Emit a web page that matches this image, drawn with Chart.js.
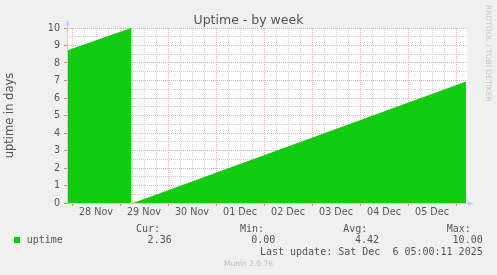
<!DOCTYPE html>
<html><head><meta charset="utf-8">
<script src="https://cdn.jsdelivr.net/npm/chart.js@4.4.1/dist/chart.umd.min.js"></script>
<style>
html,body{margin:0;padding:0;background:#f0f0f0;}
#wrap{position:relative;width:497px;height:275px;overflow:hidden;background:#f0f0f0;}
canvas{position:absolute;left:0;top:0;}
.m{position:absolute;white-space:pre;font-family:"DejaVu Sans Mono",monospace;font-size:10px;line-height:12px;color:#555;}
.r{text-align:right;}
#title{position:absolute;left:0;width:497px;top:11.5px;text-align:center;font-family:"DejaVu Sans",sans-serif;font-size:12.5px;line-height:15px;color:#555;}
#rrd{position:absolute;left:483.5px;top:5px;writing-mode:vertical-rl;font-family:"DejaVu Sans",sans-serif;font-size:7.5px;line-height:9px;color:#c8c8c8;white-space:pre;}
#munin{position:absolute;left:0;width:497px;top:259px;text-align:center;font-family:"DejaVu Sans",sans-serif;font-size:7.5px;line-height:9px;color:#bbb;}
#sw{position:absolute;left:14px;top:237px;width:6px;height:6px;background:#00cc00;}
</style></head><body>
<div id="wrap">
<canvas id="c" width="497" height="275"></canvas>
<div id="title">Uptime - by week</div>
<div id="rrd">RRDTOOL / TOBI OETIKER</div>
<div class="m" style="left:136px;top:222.8px">Cur:</div>
<div class="m" style="left:240px;top:222.8px">Min:</div>
<div class="m" style="left:343.3px;top:222.8px">Avg:</div>
<div class="m" style="left:446.7px;top:222.8px">Max:</div>
<div id="sw"></div>
<div class="m" style="left:26.7px;top:234.3px">uptime</div>
<div class="m r" style="right:325.3px;top:234.3px">2.36</div>
<div class="m r" style="right:221.7px;top:234.3px">0.00</div>
<div class="m r" style="right:118px;top:234.3px">4.42</div>
<div class="m r" style="right:14.3px;top:234.3px">10.00</div>
<div class="m r" style="right:14.3px;top:245.5px">Last update: Sat Dec  6 05:00:11 2025</div>
<div id="munin">Munin 2.0.76</div>
</div>
<script>
// hours relative to 28 Nov 00:00
const hours  = [-2.5, 29.5, 30, 30.5, 197];
const uptime = [8.72, 10.0, null, 0.0, 6.95];
const dayLabels = ['28 Nov','29 Nov','30 Nov','01 Dec','02 Dec','03 Dec','04 Dec','05 Dec'];
const xMin = -2.5, xMax = 197.5;
const yMin = 0, yMax = 10;

const MAJOR = 'rgba(225,90,90,0.5)';
const MINOR = 'rgba(150,150,150,0.45)';
const AXIS = '#c4cdf6';

const tickHours = [];
for (let d = 0; d <= dayLabels.length; d++) for (let q = 0; q < 4; q++) { const v = d*24+q*6; if (v <= xMax) tickHours.push(v); }

const bgPlugin = {
  id: 'bg',
  beforeDraw(chart) {
    const {ctx, chartArea: a} = chart;
    ctx.save(); ctx.fillStyle = '#ffffff';
    ctx.fillRect(a.left, a.top, a.right - a.left, a.bottom - a.top);
    ctx.restore();
  },
  afterDraw(chart) {
    const {ctx, chartArea: a} = chart;
    ctx.save();
    ctx.strokeStyle = AXIS; ctx.fillStyle = AXIS; ctx.lineWidth = 1;
    const lx = Math.round(a.left) + 0.5, by = Math.round(a.bottom) + 0.5;
    ctx.beginPath(); ctx.moveTo(lx, by); ctx.lineTo(lx, a.top - 3); ctx.stroke();
    ctx.beginPath(); ctx.moveTo(lx, a.top - 8); ctx.lineTo(lx - 2.5, a.top - 2.5); ctx.lineTo(lx + 2.5, a.top - 2.5); ctx.closePath(); ctx.fill();
    ctx.beginPath(); ctx.moveTo(lx, by); ctx.lineTo(a.right + 2, by); ctx.stroke();
    ctx.beginPath(); ctx.moveTo(a.right + 6.5, by); ctx.lineTo(a.right + 1, by - 2.5); ctx.lineTo(a.right + 1, by + 2.5); ctx.closePath(); ctx.fill();
    ctx.restore();
  }
};

new Chart(document.getElementById('c'), {
  type: 'line',
  data: {
    datasets: [{
      label: 'uptime',
      data: hours.map((h, i) => ({x: h, y: uptime[i]})),
      fill: 'origin',
      backgroundColor: 'rgba(0,200,0,0.93)',
      borderColor: 'rgba(0,0,0,0)',
      borderWidth: 0,
      pointRadius: 0,
      tension: 0,
      spanGaps: false
    }]
  },
  options: {
    responsive: false,
    devicePixelRatio: 1,
    animation: false,
    layout: {padding: {top: 28, right: 30, bottom: 52, left: 0}},
    plugins: {legend: {display: false}, tooltip: {enabled: false}, title: {display: false}},
    scales: {
      x: {
        type: 'linear', min: xMin, max: xMax,
        afterBuildTicks: s => { s.ticks = tickHours.map(v => ({value: v})); },
        afterFit: s => { s.height = 20; },
        border: {display: false, dash: [1, 1]},
        grid: {
          color: c => (c.tick && c.tick.value % 24 === 0) ? MAJOR : MINOR,
          tickColor: c => (c.tick && c.tick.value % 24 === 0) ? 'rgba(230,90,90,0.8)' : 'rgba(0,0,0,0)',
          tickLength: 3,
          lineWidth: 1
        },
        ticks: {
          autoSkip: false, maxRotation: 0, padding: 1,
          color: '#555',
          font: {family: 'DejaVu Sans', size: 9.6},
          callback: v => (v % 24 === 12) ? dayLabels[(v - 12) / 24] : ''
        }
      },
      y: {
        min: yMin, max: yMax,
        afterFit: s => { s.width = 67; },
        border: {display: false, dash: [1, 1]},
        grid: {
          color: c => (c.tick && c.tick.value % 1 === 0) ? MAJOR : MINOR,
          tickColor: c => (c.tick && c.tick.value % 1 === 0) ? 'rgba(230,90,90,0.8)' : 'rgba(0,0,0,0)',
          tickLength: 3,
          lineWidth: 1
        },
        ticks: {
          stepSize: 0.5, autoSkip: false, padding: 4,
          color: '#555',
          font: {family: 'DejaVu Sans', size: 9.6},
          callback: v => (v % 1 === 0) ? String(v) : ''
        },
        title: {
          display: true, text: 'uptime in days', color: '#555',
          font: {family: 'DejaVu Sans', size: 11.5},
          padding: {top: 3.5, bottom: 0}
        }
      }
    }
  },
  plugins: [bgPlugin]
});
</script>
</body></html>
